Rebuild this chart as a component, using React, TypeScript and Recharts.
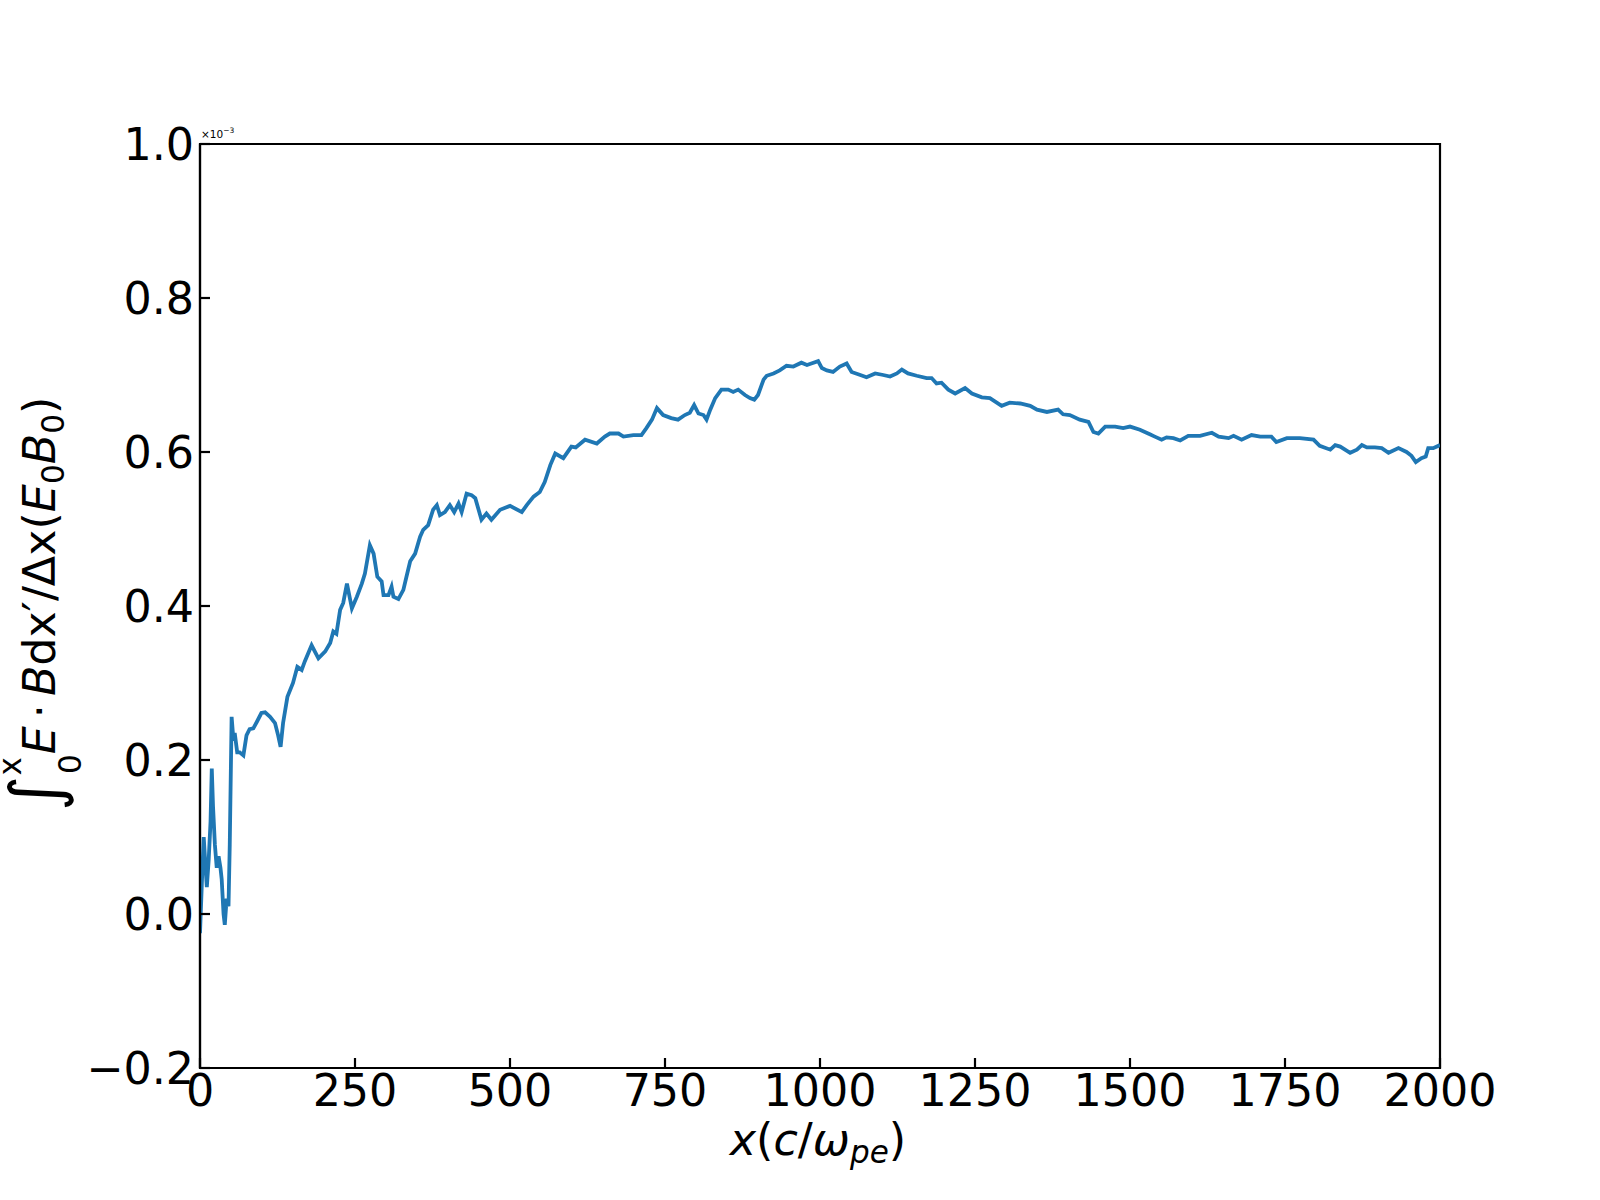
import React from 'react';
import { LineChart, Line, XAxis, YAxis, ReferenceArea } from 'recharts';

// x positions (c/ω_pe)
const xValues: number[] = [
  0, 3, 6, 9, 11, 14, 17, 19, 21, 24, 27, 30, 33, 35, 38, 40, 43, 46, 48, 51,
  54, 56, 60, 64, 70, 75, 80, 86, 92, 99, 105, 113, 121, 126, 130, 134, 141, 150, 157, 164,
  169, 180, 191, 202, 210, 215, 220, 226, 231, 237, 245, 253, 261, 266, 274, 280, 286, 293, 296, 304,
  309, 312, 320, 328, 333, 339, 347, 355, 360, 368, 376, 382, 387, 395, 403, 410, 417, 422, 430, 438,
  444, 454, 462, 470, 484, 500, 519, 527, 538, 548, 556, 565, 573, 586, 599, 606, 621, 640, 653, 661,
  675, 683, 699, 712, 720, 729, 737, 747, 760, 771, 782, 790, 797, 804, 812, 817, 823, 831, 841, 852,
  860, 868, 879, 887, 894, 900, 909, 914, 925, 935, 946, 957, 970, 979, 986, 997, 1003, 1011, 1021, 1032,
  1043, 1051, 1065, 1075, 1089, 1102, 1113, 1124, 1132, 1142, 1156, 1172, 1180, 1188, 1196, 1207, 1218, 1234, 1245, 1261,
  1274, 1293, 1306, 1323, 1339, 1350, 1366, 1384, 1392, 1403, 1419, 1433, 1441, 1449, 1460, 1476, 1489, 1500, 1516, 1532,
  1540, 1551, 1559, 1570, 1581, 1594, 1613, 1632, 1643, 1659, 1667, 1680, 1696, 1710, 1728, 1736, 1753, 1774, 1796, 1806,
  1823, 1831, 1839, 1855, 1866, 1874, 1882, 1895, 1906, 1917, 1933, 1946, 1954, 1961, 1970, 1977, 1981, 1989, 2000,
];

// cumulative E·B integral (×10^-3)
const yValues: number[] = [
  -0.025, 0.04, 0.1, 0.06, 0.035, 0.07, 0.12, 0.189, 0.14, 0.09, 0.06, 0.075, 0.06, 0.045, 0.0, -0.014, 0.02, 0.01, 0.09, 0.256,
  0.225, 0.235, 0.21, 0.21, 0.206, 0.232, 0.24, 0.241, 0.25, 0.261, 0.262, 0.256, 0.248, 0.232, 0.217, 0.248, 0.282, 0.3, 0.321, 0.317,
  0.328, 0.349, 0.332, 0.341, 0.352, 0.367, 0.364, 0.395, 0.404, 0.429, 0.397, 0.412, 0.429, 0.442, 0.479, 0.468, 0.438, 0.432, 0.414, 0.414,
  0.425, 0.412, 0.409, 0.421, 0.438, 0.458, 0.468, 0.49, 0.499, 0.505, 0.525, 0.531, 0.518, 0.522, 0.531, 0.522, 0.533, 0.522, 0.546, 0.544,
  0.54, 0.512, 0.52, 0.512, 0.525, 0.53, 0.522, 0.531, 0.542, 0.548, 0.561, 0.583, 0.598, 0.592, 0.607, 0.606, 0.616, 0.611, 0.62, 0.624,
  0.624, 0.62, 0.622, 0.622, 0.631, 0.642, 0.657, 0.648, 0.644, 0.642, 0.648, 0.651, 0.661, 0.65, 0.648, 0.642, 0.655, 0.67, 0.681, 0.681,
  0.678, 0.681, 0.674, 0.67, 0.668, 0.674, 0.694, 0.699, 0.702, 0.706, 0.712, 0.711, 0.716, 0.713, 0.715, 0.718, 0.709, 0.706, 0.704, 0.711,
  0.715, 0.704, 0.7, 0.697, 0.702, 0.7, 0.698, 0.702, 0.707, 0.702, 0.699, 0.696, 0.696, 0.689, 0.69, 0.681, 0.676, 0.683, 0.676, 0.671,
  0.67, 0.66, 0.664, 0.663, 0.66, 0.655, 0.652, 0.655, 0.649, 0.648, 0.642, 0.639, 0.626, 0.624, 0.633, 0.633, 0.631, 0.633, 0.629, 0.623,
  0.62, 0.616, 0.619, 0.618, 0.615, 0.621, 0.621, 0.625, 0.62, 0.618, 0.621, 0.616, 0.622, 0.62, 0.62, 0.613, 0.618, 0.618, 0.616, 0.608,
  0.603, 0.609, 0.607, 0.599, 0.603, 0.609, 0.606, 0.606, 0.605, 0.599, 0.605, 0.6, 0.595, 0.587, 0.592, 0.594, 0.605, 0.605, 0.609,
];

const xTicks: number[] = [0, 250, 500, 750, 1000, 1250, 1500, 1750, 2000];
const yTicks: number[] = [-0.2, 0, 0.2, 0.4, 0.6, 0.8, 1.0];

const data = xValues.map((x, i) => ({ x, y: yValues[i] }));

const FONT = 'DejaVu Sans';
const FS = 44.4;
const LINE_COLOR = '#1f77b4';

const fmtY = (v: number) => {
  const s = Math.abs(v).toFixed(1);
  return v < -1e-9 ? '\u2212' + s : s;
};

const XLabel = () => (
  <text x={818} y={1155} textAnchor="middle" fontFamily={FONT} fontSize={FS} fill="#000">
    <tspan fontStyle="italic">x</tspan>
    <tspan>(</tspan>
    <tspan fontStyle="italic">c</tspan>
    <tspan>/</tspan>
    <tspan fontStyle="italic">ω</tspan>
    <tspan fontStyle="italic" fontSize={FS * 0.7} dy={8}>pe</tspan>
    <tspan dy={-8}>)</tspan>
  </text>
);

const YLabel = () => {
  const fs = 44.4;
  const ss = fs * 0.7;
  return (
    <g>
      <text
        transform="rotate(-90)"
        x={-604}
        y={55}
        textAnchor="middle"
        fontFamily={FONT}
        fontSize={fs}
        fill="#000"
      >
        <tspan fontSize={fs * 1.55} dy={4}>∫</tspan>
        <tspan fontSize={ss} dy={-38}>x</tspan>
        <tspan fontSize={ss} dx={-ss * 0.55} dy={60}>0</tspan>
        <tspan fontStyle="italic" dy={-26}>E</tspan>
        <tspan dx={8}>·</tspan>
        <tspan fontStyle="italic" dx={8}>B</tspan>
        <tspan>dx′/Δx(</tspan>
        <tspan fontStyle="italic">E</tspan>
        <tspan fontSize={ss} dy={9}>0</tspan>
        <tspan fontStyle="italic" dy={-9}>B</tspan>
        <tspan fontSize={ss} dy={9}>0</tspan>
        <tspan dy={-9}>)</tspan>
      </text>
      <text x={201} y={138} fontFamily={FONT} fontSize={10.5} fill="#000">
        <tspan>×10</tspan>
        <tspan fontSize={7.5} dy={-5}>−3</tspan>
      </text>
    </g>
  );
};

export default function App() {
  return (
    <div style={{ position: 'absolute', left: 0, top: 0, width: 1600, height: 1200, background: '#fff' }}>
      <LineChart
        width={1600}
        height={1200}
        data={data}
        margin={{ top: 144, right: 160, bottom: 0, left: 0 }}
      >
        <XAxis
          dataKey="x"
          type="number"
          domain={[0, 2000]}
          ticks={xTicks}
          allowDataOverflow
          height={132}
          axisLine={{ stroke: '#000', strokeWidth: 2.2 }}
          tickLine={{ stroke: '#000', strokeWidth: 2.2 }}
          tickSize={-10}
          tickMargin={16.5}
          tick={{ fontSize: FS, fill: '#000', fontFamily: FONT }}
          interval={0}
          label={{ content: () => <XLabel /> }}
        />
        <YAxis
          dataKey="y"
          type="number"
          domain={[-0.2, 1.0]}
          ticks={yTicks}
          allowDataOverflow
          width={200}
          axisLine={{ stroke: '#000', strokeWidth: 2.2 }}
          tickLine={{ stroke: '#000', strokeWidth: 2.2 }}
          tickSize={-10}
          tickMargin={16}
          tickFormatter={fmtY}
          tick={{ fontSize: FS, fill: '#000', fontFamily: FONT }}
          interval={0}
          label={{ content: () => <YLabel /> }}
        />
        <ReferenceArea
          x1={0}
          x2={2000}
          y1={-0.2}
          y2={1.0}
          fill="none"
          fillOpacity={0}
          stroke="#000"
          strokeWidth={2.2}
          ifOverflow="visible"
        />
        <Line
          type="linear"
          dataKey="y"
          stroke={LINE_COLOR}
          strokeWidth={3.8}
          dot={false}
          activeDot={false}
          isAnimationActive={false}
        />
      </LineChart>
    </div>
  );
}
